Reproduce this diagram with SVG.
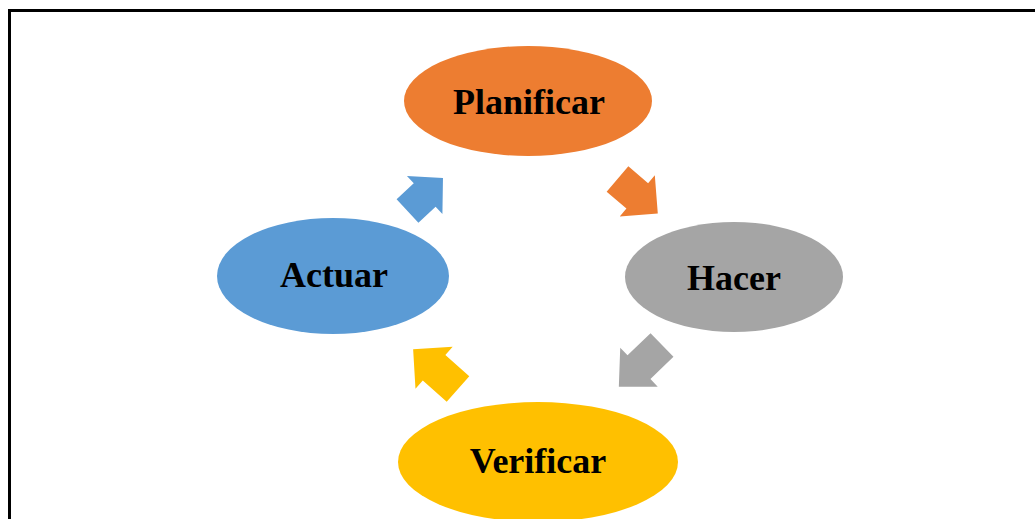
<svg xmlns="http://www.w3.org/2000/svg" width="1035" height="519" viewBox="0 0 1035 519">
<style>
.lbl{font-family:"Liberation Serif","Times New Roman",serif;font-weight:bold;font-size:36px;fill:#000;text-anchor:middle}
</style>
<rect width="1035" height="519" fill="#fff"/>
<path d="M9.5,530 V10.5 H1040" fill="none" stroke="#000" stroke-width="3"/>
<g id="connectors">
<path d="M0,-16.7 H26 V-27 L53,0 L26,27 V16.7 H0 Z" fill="#ED7D31" transform="translate(617.5,179) rotate(40.5)"/>
<path d="M0,-16.5 H32 V-27 L60,0 L32,27 V16.5 H0 Z" fill="#A5A5A5" transform="translate(662,345) rotate(136)"/>
<path d="M0,-17 H32 V-28 L60,0 L32,28 V17 H0 Z" fill="#FFC000" transform="translate(458,389) rotate(221.6)"/>
<path d="M0,-16 H23.5 V-26 L48.5,0 L23.5,26 V16 H0 Z" fill="#5B9BD5" transform="translate(407.5,211) rotate(-43)"/>
</g>
<g id="planificar">
<ellipse cx="528" cy="101" rx="124" ry="55" fill="#ED7D31"/>
<text class="lbl" x="529" y="114">Planificar</text>
</g>
<g id="hacer">
<ellipse cx="734" cy="277" rx="109" ry="55" fill="#A5A5A5"/>
<text class="lbl" x="734" y="290">Hacer</text>
</g>
<g id="verificar">
<ellipse cx="538" cy="462" rx="140" ry="60" fill="#FFC000"/>
<text class="lbl" x="538" y="473">Verificar</text>
</g>
<g id="actuar">
<ellipse cx="333" cy="276" rx="116" ry="58" fill="#5B9BD5"/>
<text class="lbl" x="334" y="287">Actuar</text>
</g>
</svg>
